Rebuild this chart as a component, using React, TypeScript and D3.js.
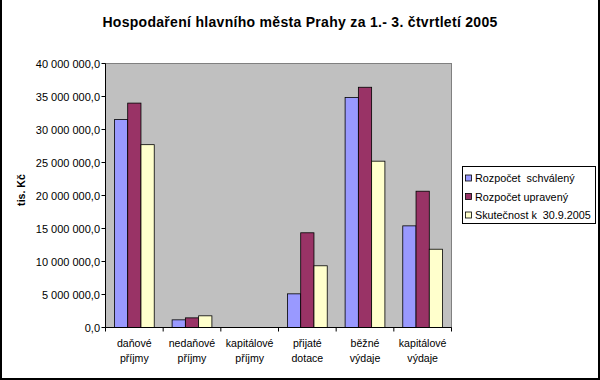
import React from "react";
import * as d3 from "d3";

const categories = [
  ["daňové", "příjmy"],
  ["nedaňové", "příjmy"],
  ["kapitálové", "příjmy"],
  ["přijaté", "dotace"],
  ["běžné", "výdaje"],
  ["kapitálové", "výdaje"],
];
const seriesNames = ["Rozpočet  schválený", "Rozpočet upravený", "Skutečnost k  30.9.2005"];
const schvaleny = [31500000, 1160000, 0, 5100000, 34850000, 15400000];
const upraveny = [34000000, 1460000, 0, 14350000, 36400000, 20650000];
const skutecnost = [27700000, 1770000, 0, 9350000, 25200000, 11860000];
const yTicks = [0, 5000000, 10000000, 15000000, 20000000, 25000000, 30000000, 35000000, 40000000];
const colors = ["#9999FF", "#993366", "#FFFFCC"];

const series = [schvaleny, upraveny, skutecnost];

function fmt(v: number) {
  const s = Math.round(v).toString().replace(/\B(?=(\d{3})+(?!\d))/g, " ");
  return s + ",0";
}

export default function App() {
  const W = 600, H = 380;
  const left = 105.5, right = 451.5, top = 63.5, bottom = 327.5;
  const font = "Liberation Sans, Arial, sans-serif";
  const x = d3.scaleBand<number>().domain(d3.range(categories.length)).range([left, right]).paddingInner(0).paddingOuter(0);
  const y = d3.scaleLinear().domain([0, 40000000]).range([bottom, top]);
  const bw = x.bandwidth();
  const barW = bw * 0.23;
  const groupW = barW * 3;
  return (
    <svg width={W} height={H} style={{ position: "absolute", left: 0, top: 0 }} fontFamily={font}>
      <rect x={0} y={0} width={W} height={H} fill="#fff" />
      <line x1={1} y1={0} x2={1} y2={H} stroke="#000" strokeWidth={2} />
      <line x1={W - 1} y1={0} x2={W - 1} y2={H} stroke="#000" strokeWidth={2} />
      <line x1={0} y1={H - 1} x2={W} y2={H - 1} stroke="#000" strokeWidth={2} />
      <text x={300} y={27} textAnchor="middle" fontSize={14} fontWeight="bold" letterSpacing={0.3}>
        Hospodaření hlavního města Prahy za 1.- 3. čtvrtletí 2005
      </text>
      <rect x={left} y={top} width={right - left} height={bottom - top} fill="#C0C0C0" stroke="#808080" strokeWidth={1} />
      {series.map((vals, si) =>
        vals.map((v, ci) => {
          const x0 = (x(ci) as number) + (bw - groupW) / 2 + si * barW;
          const yy = y(v);
          return (
            <rect key={`${si}-${ci}`} x={x0} y={yy} width={barW} height={bottom - yy}
              fill={colors[si]} stroke="#000" strokeWidth={v > 0 ? 0.8 : 0} />
          );
        })
      )}
      <line x1={left} y1={top} x2={left} y2={bottom} stroke="#000" />
      <line x1={left} y1={bottom} x2={right} y2={bottom} stroke="#000" />
      {yTicks.map((t) => (
        <g key={t}>
          <line x1={left - 4} x2={left} y1={y(t)} y2={y(t)} stroke="#000" />
          <text x={100} y={y(t) + 4} textAnchor="end" fontSize={11}>{fmt(t)}</text>
        </g>
      ))}
      {d3.range(categories.length + 1).map((i) => {
        const xx = left + i * bw;
        return <line key={i} x1={xx} x2={xx} y1={bottom} y2={bottom + 4} stroke="#000" />;
      })}
      {categories.map((c, i) => (
        <text key={i} x={(x(i) as number) + bw / 2} textAnchor="middle" fontSize={10.6}>
          <tspan x={(x(i) as number) + bw / 2} y={347}>{c[0]}</tspan>
          <tspan x={(x(i) as number) + bw / 2} y={362}>{c[1]}</tspan>
        </text>
      ))}
      <text transform={`translate(25,190) rotate(-90)`} textAnchor="middle" fontSize={10.6} fontWeight="bold">tis. Kč</text>
      <rect x={462.5} y={166.5} width={133} height={57} fill="#fff" stroke="#000" />
      {seriesNames.map((n, i) => (
        <g key={n}>
          <rect x={465.5} y={175 + i * 18.5} width={6} height={6} fill={colors[i]} stroke="#000" strokeWidth={0.8} />
          <text x={475} y={182 + i * 18.5} fontSize={10.8} style={{ whiteSpace: "pre" }}>{n}</text>
        </g>
      ))}
    </svg>
  );
}
